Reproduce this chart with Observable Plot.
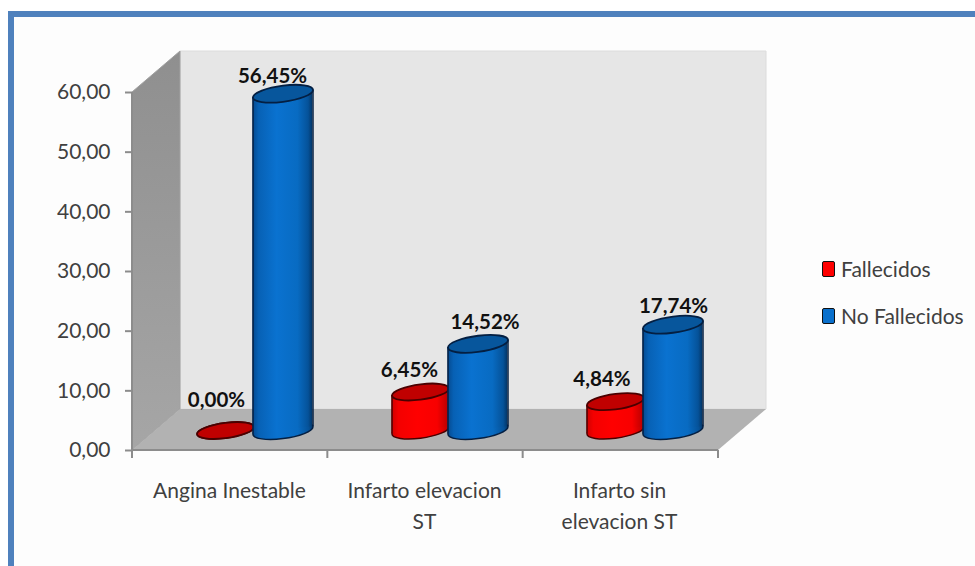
<!DOCTYPE html>
<html lang="es">
<head>
<meta charset="utf-8">
<title>Fallecidos y no fallecidos por diagnóstico</title>
<script src="https://cdn.jsdelivr.net/npm/d3@7"></script>
<script src="https://cdn.jsdelivr.net/npm/@observablehq/plot@0.6"></script>
<style>
  html, body { margin: 0; background: #fff; }
  #page { position: relative; width: 975px; height: 566px; overflow: hidden; background: #fff; }
  #frame { position: absolute; left: 8px; top: 11px; right: 0; bottom: 0;
           border-left: 6px solid #4f81bd; border-top: 6px solid #4f81bd; background: #fdfdfd; }
  #chart { position: absolute; left: 0; top: 0; }
  #chart svg { background: transparent; }
  #legend { position: absolute; left: 822px; top: 0; font: 21px Lato, sans-serif; color: #404040; }
  .entry { position: absolute; left: 0; display: flex; align-items: center; gap: 6px; white-space: nowrap; }
  .swatch { width: 11px; height: 14px; border: 1.5px solid #111; border-radius: 2px; display: inline-block; }
</style>
</head>
<body>
<div id="page">
  <div id="frame"></div>
  <div id="chart"></div>
  <div id="legend"></div>
</div>
<script>
// Porcentajes por diagnóstico y desenlace
const categories = ["Angina Inestable", "Infarto elevacion\nST", "Infarto sin\nelevacion ST"];
const fallecidos = [0, 6.45, 4.84];
const noFallecidos = [56.45, 14.52, 17.74];
const yTicks = [0, 10, 20, 30, 40, 50, 60];

const porcentaje = (v) => v.toFixed(2).replace(".", ",");
const rows = (values) => categories.map((categoria, i) => ({categoria, valor: values[i]}));

// Proyección oblicua del suelo y las paredes
const depthX = 48, depthY = -41;
const floorDy = depthY / 2 + 0.5;
const groupDx = depthX / 2;
const slope = 0.125;

// Elipse inclinada para las tapas de los cilindros
const tiltedEllipse = {
  draw(ctx, size) {
    const rx = Math.sqrt(size / Math.PI), ry = rx * 0.27, k = 0.5523;
    const P = (x, y) => [x, y - slope * x];
    ctx.moveTo(...P(rx, 0));
    ctx.bezierCurveTo(...P(rx, k * ry), ...P(k * rx, ry), ...P(0, ry));
    ctx.bezierCurveTo(...P(-k * rx, ry), ...P(-rx, k * ry), ...P(-rx, 0));
    ctx.bezierCurveTo(...P(-rx, -k * ry), ...P(-k * rx, -ry), ...P(0, -ry));
    ctx.bezierCurveTo(...P(k * rx, -ry), ...P(rx, -k * ry), ...P(rx, 0));
    ctx.closePath();
  }
};

// Inclina cada cuerpo para que coincida con sus tapas
function skewBars(index, scales, values, dimensions, context, next) {
  const g = next(index, scales, values, dimensions, context);
  d3.select(g).selectAll("rect").each(function () {
    const cx = +this.getAttribute("x") + +this.getAttribute("width") / 2;
    this.setAttribute("transform", `matrix(1 ${-slope} 0 1 0 ${slope * cx})`);
  });
  return g;
}

function gradient(defs, id, stops) {
  const g = defs.append("linearGradient").attr("id", id);
  for (const [o, c] of stops) g.append("stop").attr("offset", o).attr("stop-color", c);
}

// Paredes, suelo y marcas de eje en perspectiva
function room(index, scales, values, dimensions) {
  const {width, marginLeft, marginRight} = dimensions;
  const x0 = marginLeft, x1 = width - marginRight;
  const yTop = scales.y(60), yBase = scales.y(0);
  const g = d3.create("svg:g");
  const defs = g.append("defs");
  gradient(defs, "azul", [[0, "#054a90"], [0.1, "#0761b5"], [0.4, "#0a72d0"], [0.75, "#086bc2"], [0.93, "#055299"], [1, "#033566"]]);
  gradient(defs, "rojo", [[0, "#d00000"], [0.12, "#f40000"], [0.45, "#ff0000"], [0.8, "#f80000"], [1, "#b80000"]]);
  const wall = defs.append("linearGradient").attr("id", "pared").attr("x2", 0).attr("y2", 1);
  wall.append("stop").attr("offset", 0).attr("stop-color", "#8f8f8f");
  wall.append("stop").attr("offset", 1).attr("stop-color", "#a6a6a6");
  const poly = (pts, fill, stroke) => g.append("path")
    .attr("d", "M" + pts.map((p) => p.join(",")).join("L") + "Z")
    .attr("fill", fill).attr("stroke", stroke || "none");
  poly([[x0 + depthX, yTop + depthY], [x1 + depthX, yTop + depthY], [x1 + depthX, yBase + depthY], [x0 + depthX, yBase + depthY]], "#e6e6e6", "#dcdcdc");
  poly([[x0, yTop], [x0 + depthX, yTop + depthY], [x0 + depthX, yBase + depthY], [x0, yBase]], "url(#pared)", "#a0a0a0");
  poly([[x0, yBase], [x0 + depthX, yBase + depthY], [x1 + depthX, yBase + depthY], [x1, yBase]], "#b2b2b2", "none");
  const step = (x1 - x0) / categories.length;
  g.append("path")
    .attr("d", `M${x0},${yTop}V${yBase}H${x1}` + d3.range(categories.length + 1).map((i) => `M${x0 + i * step},${yBase}v8`).join(""))
    .attr("fill", "none").attr("stroke", "#8c8c8c").attr("stroke-width", 2);
  return g.node();
}

// Un conjunto de marcas por cilindro: base, cuerpo, bordes y tapa
function cylinders(values, {offset, rx, fill, top, edge}) {
  const data = rows(values);
  const dx = groupDx + offset, inset = (195.33 - 2 * rx) / 2;
  return [
    Plot.dot(data, {x: "categoria", y: () => 0, dx, dy: floorDy, r: rx, symbol: tiltedEllipse, fill, stroke: edge, strokeWidth: 1.5}),
    Plot.barY(data, {x: "categoria", y: "valor", dx, dy: floorDy, fill, insetLeft: inset, insetRight: inset, render: skewBars}),
    Plot.ruleX(data, {x: "categoria", y1: () => 0, y2: "valor", dx: dx - rx, dy: floorDy + slope * rx, stroke: edge, strokeWidth: 1.5}),
    Plot.ruleX(data, {x: "categoria", y1: () => 0, y2: "valor", dx: dx + rx, dy: floorDy - slope * rx, stroke: edge, strokeWidth: 1.5}),
    Plot.dot(data, {x: "categoria", y: "valor", dx, dy: floorDy, r: rx, symbol: tiltedEllipse, fill: top, stroke: edge, strokeWidth: 1.8})
  ];
}

// Cada etiqueta de valor se desplaza por separado para no pisar los cilindros
const labelShift = {
  fallecidos: [[-9, -30], [-11, -22], [-13.5, -22]],
  noFallecidos: [[-10.5, -17], [7, -21], [0.5, -18]]
};
function valueLabels(values, shifts, offset) {
  return rows(values).map((d, i) => Plot.text([d], {
    x: "categoria", y: "valor", text: (r) => porcentaje(r.valor) + "%",
    dx: groupDx + offset + shifts[i][0], dy: floorDy + shifts[i][1],
    fontWeight: 700, fontSize: 20.5, fill: "#111"
  }));
}

const redOffset = -29.5, blueOffset = 28;

const plot = Plot.plot({
  width: 975,
  height: 566,
  marginTop: 92,
  marginBottom: 116,
  marginLeft: 132,
  marginRight: 257,
  style: {fontFamily: "Lato, sans-serif", fontSize: "21px", background: "transparent"},
  x: {domain: categories, padding: 0, axis: null},
  y: {domain: [0, 60], axis: null},
  marks: [
    room,
    Plot.axisY(yTicks, {anchor: "left", tickSize: 7, tickPadding: 15, stroke: "#8c8c8c", strokeWidth: 2, fill: "#404040", label: null, tickFormat: porcentaje}),
    Plot.axisX({anchor: "bottom", tickSize: 0, tickPadding: 25, lineHeight: 1.48, dx: -1.5, fill: "#404040", label: null}),
    ...cylinders(fallecidos, {offset: redOffset, rx: 28.5, fill: "url(#rojo)", top: "#c00000", edge: "#4a0000"}),
    ...cylinders(noFallecidos, {offset: blueOffset, rx: 30, fill: "url(#azul)", top: "#07569c", edge: "#041f42"}),
    ...valueLabels(fallecidos, labelShift.fallecidos, redOffset),
    ...valueLabels(noFallecidos, labelShift.noFallecidos, blueOffset)
  ]
});
document.getElementById("chart").append(plot);

// Leyenda
const legend = d3.select("#legend");
[["Fallecidos", "#ff0000", 256], ["No Fallecidos", "#0a70cc", 303]].forEach(([name, color, top]) => {
  const e = legend.append("div").attr("class", "entry").style("top", top + "px");
  e.append("span").attr("class", "swatch").style("background", color);
  e.append("span").text(name);
});
</script>
</body>
</html>
